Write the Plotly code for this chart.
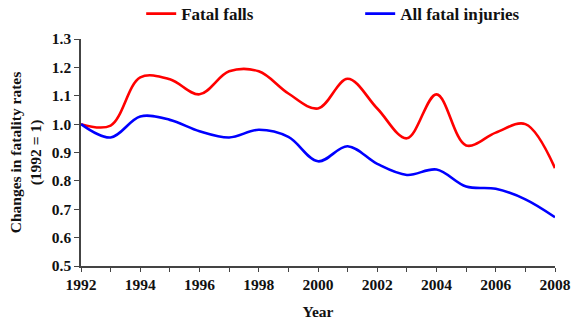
import plotly.graph_objects as go

# Yearly relative fatality rates (1992 = 1)
years = list(range(1992, 2009))
fatal_falls = [1.00, 0.995, 1.165, 1.158, 1.105, 1.186, 1.186, 1.108, 1.055,
               1.160, 1.055, 0.950, 1.105, 0.925, 0.970, 1.000, 0.845]
all_fatal = [1.00, 0.953, 1.027, 1.015, 0.975, 0.953, 0.980, 0.955, 0.869,
             0.922, 0.860, 0.821, 0.840, 0.780, 0.772, 0.735, 0.672]

x_ticks = years
x_labels = [str(y) if (y - 1992) % 2 == 0 else "" for y in years]
y_ticks = [0.5, 0.6, 0.7, 0.8, 0.9, 1.0, 1.1, 1.2, 1.3]

FONT = "Liberation Serif"
AXIS_COLOR = "#444444"

fig = go.Figure()
fig.add_trace(go.Scatter(
    x=years, y=fatal_falls, name="Fatal falls", mode="lines",
    line=dict(color="#ff0000", width=2.6, shape="spline", smoothing=1.0),
    legend="legend",
))
fig.add_trace(go.Scatter(
    x=years, y=all_fatal, name="All fatal injuries", mode="lines",
    line=dict(color="#0000ff", width=2.6, shape="spline", smoothing=1.0),
    legend="legend2",
))

common_x = dict(range=[1992, 2008], tickvals=x_ticks, ticklen=4,
                tickwidth=1.3, tickcolor=AXIS_COLOR, showgrid=False,
                zeroline=False)
common_y = dict(range=[0.5, 1.3], tickvals=y_ticks, ticklen=5,
                tickwidth=1.3, tickcolor=AXIS_COLOR, showgrid=False,
                zeroline=False)

legend_font = dict(family=FONT, size=17, color="#111111", weight="bold")
tick_font = dict(family=FONT, size=15.5, color="#111111", weight="bold")
title_font = dict(family=FONT, size=15.5, color="#111111", weight="bold")

fig.update_layout(
    width=580, height=326,
    margin=dict(l=81, r=25, t=39, b=60, autoexpand=False),
    paper_bgcolor="white", plot_bgcolor="white",
    font=dict(family=FONT, size=15, color="#111111", weight="bold"),
    xaxis=dict(
        **common_x, ticks="outside", ticktext=x_labels,
        showline=True, linecolor=AXIS_COLOR, linewidth=1.5,
        title=dict(text="Year", standoff=14, font=title_font),
        tickfont=tick_font,
    ),
    xaxis2=dict(**common_x, ticks="inside", showticklabels=False,
                overlaying="x", anchor="y", side="bottom", showline=False),
    yaxis=dict(
        **common_y, ticks="outside", tickformat=".1f",
        showline=True, linecolor=AXIS_COLOR, linewidth=1.5,
        title=dict(text="Changes in fatality rates<br>(1992 = 1)", standoff=6,
                   font=title_font),
        tickfont=tick_font,
    ),
    yaxis2=dict(**common_y, ticks="inside", showticklabels=False,
                overlaying="y", anchor="x", side="left", showline=False),
    legend=dict(x=0.127, y=1.11, xanchor="left", yanchor="middle",
                orientation="h", font=legend_font, bgcolor="rgba(0,0,0,0)",
                itemwidth=30),
    legend2=dict(x=0.589, y=1.11, xanchor="left", yanchor="middle",
                 orientation="h", font=legend_font, bgcolor="rgba(0,0,0,0)",
                 itemwidth=30),
    showlegend=True,
)

fig.write_html("out.html")
